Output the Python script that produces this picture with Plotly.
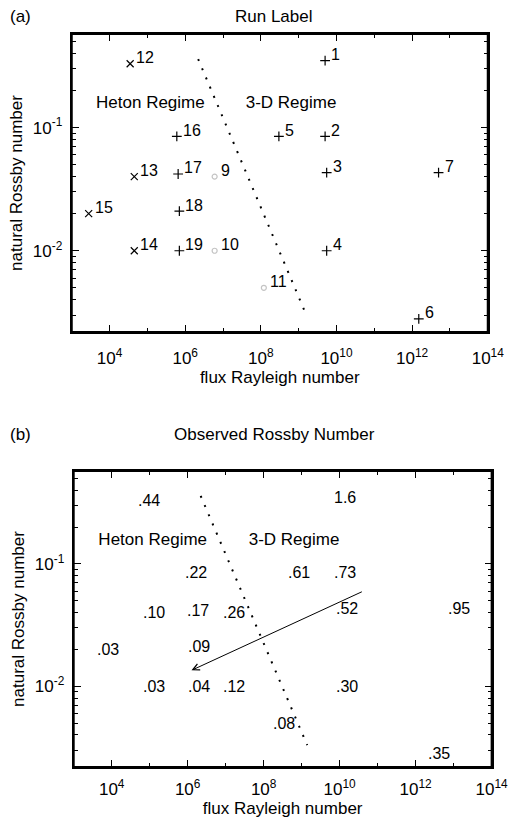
import math
import plotly.graph_objects as go

# ---- data ---------------------------------------------------------------
run_id = [1, 2, 3, 4, 5, 6, 7, 9, 10, 11, 12, 13, 14, 15, 16, 17, 18, 19]
flux_ra = [5e9, 5e9, 5.5e9, 5.5e9, 3e8, 1.5e12, 5e12, 6e6, 6e6, 1.2e8,
           3.5e4, 4.5e4, 4.5e4, 2.8e3, 6e5, 6.5e5, 7e5, 7e5]
natural_ro = [0.35, 0.085, 0.043, 0.010, 0.085, 0.0028, 0.043, 0.04, 0.01, 0.005,
              0.33, 0.04, 0.01, 0.02, 0.085, 0.042, 0.021, 0.01]
observed_ro = [1.6, 0.73, 0.52, 0.30, 0.61, 0.35, 0.95, 0.26, 0.12, 0.08,
               0.44, 0.10, 0.03, 0.03, 0.22, 0.17, 0.09, 0.04]
heton_runs = [12, 13, 14, 15]       # drawn with x
faint_runs = [9, 10, 11]            # barely visible symbol

boundary_ra = [2.2e6, 1.4e9]
boundary_ro = [0.36, 0.0033]

arrow_ra = [4.2e10, 1.26e6]
arrow_ro = [0.06, 0.0135]

regime_text = ["Heton Regime", "3-D Regime"]
regime_ra = [1.2e5, 6.3e8]
regime_ro = [0.155, 0.155]

x_major = [1e4, 1e6, 1e8, 1e10, 1e12, 1e14]
x_major_text = ["10<sup>4</sup>", "10<sup>6</sup>", "10<sup>8</sup>",
                "10<sup>10</sup>", "10<sup>12</sup>", "10<sup>14</sup>"]
x_minor = [1e3, 1e5, 1e7, 1e9, 1e11, 1e13]
y_major = [1e-2, 1e-1]
y_major_text = ["10<sup>-2</sup>", "10<sup>-1</sup>"]
y_minor = [m * d for d in (1e-3, 1e-2, 1e-1) for m in range(2, 10)]

FONT = "Liberation Sans, Arial, Helvetica, sans-serif"
FS = 17
W, H = 528, 819

# panel boxes in pixels: (left, right, top, bottom)
BOX_A = (74, 503, 34, 332)
BOX_B = (76, 507, 471, 767)


def fmt_ro(v):
    return f"{v:.1f}" if v >= 1 else f"{v:.2f}".lstrip("0")


def txt(size=FS):
    return dict(family=FONT, size=size, color="black")


fig = go.Figure()

# ---- panel (a): run markers --------------------------------------------
groups = {
    "plus": [i for i, r in enumerate(run_id) if r not in heton_runs + faint_runs],
    "x": [i for i, r in enumerate(run_id) if r in heton_runs],
    "faint": [i for i, r in enumerate(run_id) if r in faint_runs],
}
sym = {"plus": ("cross-thin", "black", 7), "x": ("x-thin", "black", 7),
       "faint": ("circle-open", "#c4c4c4", 5)}
for g, idx in groups.items():
    s, c, sz = sym[g]
    fig.add_trace(go.Scatter(
        x=[flux_ra[i] for i in idx], y=[natural_ro[i] for i in idx],
        mode="markers",
        marker=dict(symbol=s, size=sz, line=dict(color=c, width=1.2), color=c),
        xaxis="x", yaxis="y", showlegend=False, cliponaxis=False))

# run numbers, raised to the upper right of each marker
for r, xr, yr in zip(run_id, flux_ra, natural_ro):
    fig.add_annotation(x=math.log10(xr), y=math.log10(yr), xref="x", yref="y",
                       text=str(r), showarrow=False, xanchor="left", yanchor="middle",
                       xshift=5, yshift=6, borderpad=0, font=txt(16))

# ---- panel (b): observed Rossby numbers --------------------------------
for v, xr, yr in zip(observed_ro, flux_ra, natural_ro):
    fig.add_annotation(x=math.log10(xr), y=math.log10(yr), xref="x2", yref="y2",
                       text=fmt_ro(v), showarrow=False, xanchor="left", yanchor="middle",
                       xshift=5, yshift=0, borderpad=0, font=txt(16))

# regime boundary and regime names in both panels
for xa, ya in (("x", "y"), ("x2", "y2")):
    fig.add_trace(go.Scatter(
        x=boundary_ra, y=boundary_ro, mode="lines",
        line=dict(color="black", width=2, dash="2px,8px"),
        xaxis=xa, yaxis=ya, showlegend=False))
    fig.add_trace(go.Scatter(
        x=regime_ra, y=regime_ro, mode="text", text=regime_text,
        textposition="middle center", textfont=txt(),
        xaxis=xa, yaxis=ya, showlegend=False))

# arrow in panel (b)
fig.add_annotation(
    x=math.log10(arrow_ra[1]), y=math.log10(arrow_ro[1]),
    ax=math.log10(arrow_ra[0]), ay=math.log10(arrow_ro[0]),
    xref="x2", yref="y2", axref="x2", ayref="y2",
    showarrow=True, arrowhead=5, arrowsize=1.3, arrowwidth=1, arrowcolor="black",
    text="")


# ---- axes ----------------------------------------------------------------
def xaxis_cfg(box, anchor, label_gap):
    return dict(
        type="log", range=[3, 14], domain=[box[0] / W, box[1] / W], anchor=anchor,
        tickvals=x_major, ticktext=x_major_text, ticks="inside", ticklen=7,
        tickwidth=1, tickcolor="black", showline=True, linecolor="black",
        linewidth=2, mirror="allticks", showgrid=False, zeroline=False,
        tickfont=txt(), ticklabelstandoff=label_gap,
        minor=dict(tickvals=x_minor, ticks="inside", ticklen=4, tickcolor="black",
                   showgrid=False),
        title=dict(text="flux Rayleigh number", standoff=1, font=txt()))


def yaxis_cfg(box, anchor):
    return dict(
        type="log", range=[-2.66, -0.24], domain=[1 - box[3] / H, 1 - box[2] / H],
        anchor=anchor,
        tickvals=y_major, ticktext=y_major_text, ticks="inside", ticklen=7,
        tickwidth=1, tickcolor="black", showline=True, linecolor="black",
        linewidth=2, mirror="allticks", showgrid=False, zeroline=False,
        tickfont=txt(), ticklabelstandoff=4,
        minor=dict(tickvals=y_minor, ticks="inside", ticklen=4, tickcolor="black",
                   showgrid=False),
        title=dict(text="natural Rossby number", standoff=6, font=txt()))


fig.update_layout(
    width=W, height=H, margin=dict(l=0, r=0, t=0, b=0),
    paper_bgcolor="white", plot_bgcolor="white",
    xaxis=xaxis_cfg(BOX_A, "y", 10),
    yaxis=yaxis_cfg(BOX_A, "x"),
    xaxis2=xaxis_cfg(BOX_B, "y2", 6),
    yaxis2=yaxis_cfg(BOX_B, "x2"),
)

# panel frames
for left, right, top, bottom in (BOX_A, BOX_B):
    fig.add_shape(type="rect", xref="paper", yref="paper",
                  x0=left / W, x1=right / W, y0=1 - bottom / H, y1=1 - top / H,
                  line=dict(color="black", width=2),
                  fillcolor="rgba(0,0,0,0)", layer="above")

for label, title, ypix in (("(a)", "Run Label", 16), ("(b)", "Observed Rossby Number", 434)):
    fig.add_annotation(x=8 / W, y=1 - ypix / H, xref="paper", yref="paper",
                       text=label, showarrow=False, xanchor="left", yanchor="middle",
                       font=txt())
    fig.add_annotation(x=283 / W, y=1 - ypix / H, xref="paper", yref="paper",
                       text=title, showarrow=False, xanchor="center", yanchor="middle",
                       font=txt())

fig.write_html("out.html")
